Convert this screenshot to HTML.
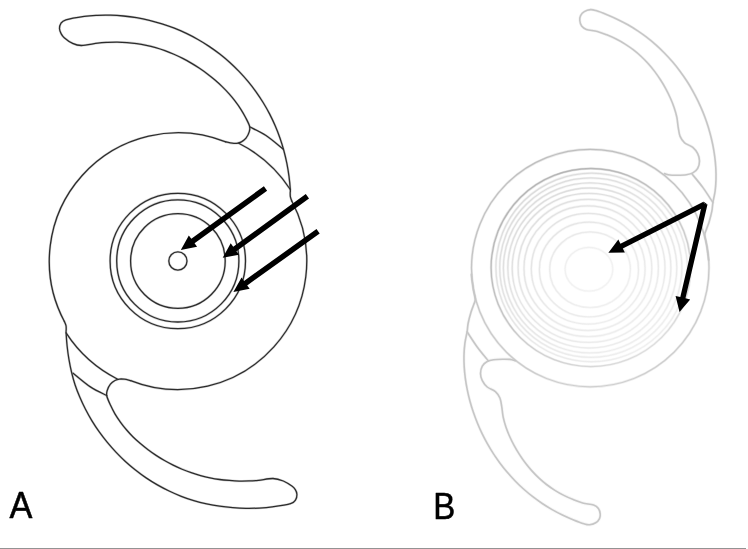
<!DOCTYPE html>
<html><head><meta charset="utf-8"><title>IOL</title>
<style>
html,body{margin:0;padding:0;background:#fff;}
body{width:748px;height:549px;overflow:hidden;font-family:"Liberation Sans",sans-serif;}
svg{display:block;position:absolute;left:0;top:0;}
</style></head><body>
<svg width="748" height="549" viewBox="0 0 748 549">
<defs>
<linearGradient id="gr" gradientUnits="userSpaceOnUse" x1="535" y1="185" x2="650" y2="350">
<stop offset="0" stop-color="#cecece"/><stop offset="0.5" stop-color="#dddddd"/><stop offset="1" stop-color="#eaeaea"/></linearGradient>
<linearGradient id="gd" gradientUnits="userSpaceOnUse" x1="535" y1="185" x2="650" y2="350">
<stop offset="0" stop-color="#989898"/><stop offset="0.5" stop-color="#b2b2b2"/><stop offset="1" stop-color="#d0d0d0"/></linearGradient>
<linearGradient id="go" gradientUnits="userSpaceOnUse" x1="565" y1="150" x2="615" y2="390">
<stop offset="0" stop-color="#a6a6a6"/><stop offset="1" stop-color="#bebebe"/></linearGradient>
<g id="lensA">
<g><path d="M291.78,201.06 C291.55,200.35 290.66,198.14 290.40,196.80 C290.14,195.46 290.22,194.22 290.20,193.00 C290.18,191.78 290.50,192.26 290.30,189.50 C290.10,186.74 289.57,180.76 289.00,176.42 C288.43,172.08 287.72,167.76 286.87,163.48 C286.02,159.20 285.02,154.94 283.88,150.73 C282.74,146.52 281.46,142.34 280.02,138.22 C278.59,134.10 277.01,130.02 275.29,126.01 C273.57,122.00 271.70,118.04 269.70,114.16 C267.69,110.28 265.54,106.46 263.26,102.73 C260.98,99.01 258.56,95.35 256.02,91.80 C253.47,88.24 250.79,84.77 248.00,81.41 C245.20,78.04 242.28,74.77 239.25,71.62 C236.22,68.47 233.07,65.41 229.82,62.49 C226.58,59.56 223.21,56.75 219.77,54.06 C216.32,51.38 212.76,48.81 209.13,46.38 C205.50,43.95 201.78,41.65 197.98,39.49 C194.19,37.33 190.31,35.30 186.37,33.41 C182.43,31.53 178.42,29.78 174.35,28.18 C170.29,26.57 166.16,25.11 162.00,23.80 C157.83,22.49 153.61,21.33 149.36,20.31 C145.11,19.29 140.81,18.43 136.50,17.71 C132.19,16.99 127.84,16.42 123.49,16.01 C119.14,15.59 114.76,15.33 110.39,15.22 C106.02,15.11 101.63,15.15 97.27,15.34 C92.90,15.54 89.43,15.64 84.20,16.40 C78.97,17.16 69.80,18.70 65.90,19.90 C62.00,21.10 61.87,22.12 60.80,23.60 C59.73,25.08 59.45,27.13 59.50,28.80 C59.55,30.47 60.32,32.12 61.10,33.60 C61.88,35.08 62.35,36.10 64.20,37.70 C66.05,39.30 69.33,41.90 72.20,43.20 C75.07,44.50 77.13,45.52 81.40,45.50 C85.67,45.48 93.46,43.62 97.80,43.10 C102.14,42.58 104.22,42.54 107.45,42.38 C110.69,42.22 113.95,42.13 117.21,42.15 C120.46,42.17 123.72,42.29 126.96,42.52 C130.20,42.76 133.44,43.10 136.66,43.55 C139.87,44.01 143.07,44.58 146.24,45.26 C149.40,45.94 152.55,46.74 155.66,47.64 C158.77,48.53 161.85,49.55 164.89,50.65 C167.94,51.75 170.95,52.97 173.92,54.26 C176.88,55.56 179.82,56.96 182.70,58.44 C185.59,59.91 188.44,61.48 191.24,63.13 C194.03,64.78 196.79,66.51 199.49,68.31 C202.18,70.12 204.83,72.01 207.42,73.97 C210.01,75.93 212.55,77.96 215.01,80.08 C217.47,82.19 219.88,84.37 222.19,86.64 C224.51,88.90 226.77,91.24 228.92,93.66 C231.08,96.07 233.16,98.57 235.12,101.14 C237.09,103.72 238.97,106.37 240.71,109.10 C242.45,111.83 244.09,114.64 245.57,117.52 C247.05,120.41 249.00,124.00 249.60,126.40 C250.20,128.80 249.80,129.93 249.20,131.90 C248.60,133.87 247.30,136.53 246.00,138.20 C244.70,139.87 242.92,141.05 241.40,141.90 C239.88,142.75 238.42,143.08 236.90,143.30 C235.38,143.52 234.16,143.43 232.30,143.20 C230.44,142.97 226.83,142.11 225.74,141.90"/><path d="M249.60,126.80 C252.33,128.25 260.38,131.77 266.00,135.50 C271.62,139.23 280.42,146.92 283.30,149.20"/><path d="M238.7,143.2 A133,133 0 0 1 290.3,189.5"/><path d="M64.39,321.47 A128.725,128.400 0 0 1 225.74,141.90"/></g>
<g><path d="M64.39,321.47 C64.66,322.16 65.70,324.28 66.00,325.60 C66.30,326.92 66.18,328.18 66.20,329.40 C66.22,330.62 65.95,330.13 66.10,332.90 C66.25,335.67 66.64,341.67 67.11,346.03 C67.58,350.40 68.17,354.75 68.91,359.08 C69.64,363.41 70.49,367.73 71.51,372.00 C72.53,376.28 73.65,380.55 75.03,384.73 C76.40,388.91 78.03,393.02 79.76,397.07 C81.48,401.13 83.35,405.13 85.36,409.05 C87.37,412.98 89.52,416.84 91.81,420.61 C94.10,424.37 96.53,428.07 99.09,431.67 C101.64,435.26 104.34,438.77 107.15,442.17 C109.96,445.58 112.89,448.89 115.93,452.09 C118.96,455.30 122.10,458.42 125.36,461.41 C128.61,464.39 131.98,467.27 135.44,470.01 C138.90,472.76 142.46,475.40 146.11,477.88 C149.77,480.36 153.54,482.69 157.37,484.89 C161.20,487.08 165.13,489.13 169.11,491.04 C173.09,492.95 177.15,494.75 181.26,496.35 C185.37,497.95 189.57,499.39 193.79,500.65 C198.02,501.90 202.32,502.95 206.63,503.88 C210.94,504.81 215.29,505.58 219.65,506.21 C224.01,506.84 228.39,507.30 232.77,507.66 C237.16,508.01 241.56,508.26 245.95,508.33 C250.34,508.40 254.75,508.32 259.13,508.08 C263.51,507.84 266.99,507.65 272.23,506.90 C277.48,506.15 286.69,504.80 290.60,503.60 C294.51,502.40 294.65,501.27 295.70,499.70 C296.75,498.13 296.97,495.87 296.90,494.20 C296.83,492.53 296.13,491.05 295.30,489.70 C294.47,488.35 293.90,487.55 291.90,486.10 C289.90,484.65 286.45,482.27 283.30,481.00 C280.15,479.73 277.11,478.62 273.00,478.50 C268.89,478.38 262.65,479.89 258.64,480.30 C254.63,480.71 252.18,480.85 248.94,480.98 C245.69,481.11 242.41,481.18 239.15,481.10 C235.89,481.01 232.62,480.75 229.38,480.48 C226.13,480.21 222.88,479.94 219.65,479.50 C216.43,479.06 213.22,478.51 210.03,477.85 C206.85,477.20 203.68,476.43 200.54,475.57 C197.40,474.71 194.28,473.76 191.20,472.70 C188.12,471.64 185.07,470.48 182.06,469.22 C179.05,467.96 176.08,466.61 173.15,465.16 C170.21,463.72 167.32,462.18 164.48,460.56 C161.65,458.93 158.86,457.20 156.12,455.40 C153.39,453.59 150.70,451.71 148.08,449.74 C145.46,447.78 142.89,445.73 140.39,443.61 C137.90,441.48 135.42,439.31 133.10,437.00 C130.77,434.69 128.56,432.25 126.44,429.76 C124.32,427.26 122.29,424.66 120.38,422.01 C118.46,419.35 116.60,416.64 114.94,413.82 C113.28,411.00 111.79,408.06 110.43,405.09 C109.08,402.12 107.34,398.43 106.80,396.00 C106.26,393.57 106.60,392.47 107.20,390.50 C107.80,388.53 109.10,385.87 110.40,384.20 C111.70,382.53 113.48,381.35 115.00,380.50 C116.52,379.65 117.98,379.32 119.50,379.10 C121.02,378.88 122.24,378.96 124.10,379.20 C125.96,379.44 129.55,380.31 130.64,380.54"/><path d="M106.80,395.60 C104.07,394.15 96.02,390.63 90.40,386.90 C84.78,383.17 75.98,375.48 73.10,373.20"/><path d="M117.70,379.20 A133,133 0 0 1 66.10,332.90"/><path d="M291.78,201.06 A128.72,128.40 0 0 1 130.64,380.54"/></g>
<circle cx="177.8" cy="261" r="67.7"/>
<circle cx="177.8" cy="260.9" r="61.1"/>
<circle cx="177.9" cy="261" r="47.3"/>
<circle cx="177.9" cy="261" r="9.1"/>
</g>
<g id="optB">
<circle cx="590.25" cy="268.1" r="118.75" stroke="url(#go)"/>
<g stroke="url(#gr)" transform="translate(0 0.35)"><ellipse cx="588.95" cy="268.90" rx="23.85" ry="21.90" opacity="0.50"/><ellipse cx="590.05" cy="269.40" rx="40.35" ry="37.80" opacity="0.70"/><ellipse cx="588.95" cy="269.20" rx="49.55" ry="47.40" opacity="0.80"/><ellipse cx="588.20" cy="268.40" rx="56.90" ry="55.30" opacity="0.85"/><ellipse cx="587.90" cy="267.85" rx="63.90" ry="62.30" opacity="0.90"/><ellipse cx="588.25" cy="267.60" rx="70.15" ry="68.60" opacity="0.95"/><ellipse cx="588.60" cy="267.60" rx="76.40" ry="74.50" opacity="1.00"/><ellipse cx="589.35" cy="267.65" rx="81.55" ry="80.00" opacity="1.00"/><ellipse cx="590.10" cy="267.60" rx="86.70" ry="85.00" opacity="1.00"/><ellipse cx="590.80" cy="267.30" rx="91.10" ry="89.70" opacity="1.00"/><ellipse cx="591.60" cy="267.10" rx="95.70" ry="94.30" opacity="1.00"/></g>
<ellipse cx="590.9" cy="267.55" rx="99.8" ry="99.05" stroke="url(#gd)"/>
</g>
<g id="hapB">
<path d="M708.60,260.00 C708.50,259.10 708.37,257.32 708.00,254.60 C707.63,251.88 706.93,246.97 706.40,243.70 C705.87,240.43 704.80,237.37 704.80,235.00 C704.80,232.63 705.68,231.68 706.40,229.50 C707.12,227.32 708.18,225.00 709.10,221.90 C710.02,218.80 711.27,214.12 711.90,210.90 C712.53,207.68 712.37,205.87 712.90,202.60 C713.43,199.33 714.57,195.08 715.09,191.25 C715.60,187.42 715.87,183.52 715.99,179.64 C716.11,175.75 716.02,171.83 715.81,167.94 C715.59,164.05 715.21,160.15 714.70,156.29 C714.20,152.42 713.54,148.57 712.77,144.76 C712.01,140.95 711.11,137.16 710.10,133.42 C709.09,129.67 707.95,125.96 706.71,122.29 C705.47,118.63 704.11,115.00 702.64,111.42 C701.18,107.84 699.60,104.30 697.91,100.82 C696.22,97.33 694.42,93.89 692.52,90.52 C690.61,87.14 688.60,83.81 686.48,80.56 C684.36,77.30 682.13,74.10 679.80,70.98 C677.47,67.86 675.03,64.81 672.50,61.85 C669.97,58.88 667.34,55.99 664.61,53.21 C661.89,50.42 659.07,47.72 656.17,45.13 C653.27,42.54 650.27,40.05 647.20,37.67 C644.14,35.30 640.98,33.03 637.76,30.89 C634.54,28.75 631.25,26.72 627.89,24.81 C624.53,22.90 621.10,21.12 617.62,19.44 C614.14,17.76 610.59,16.21 606.99,14.74 C603.38,13.26 598.75,11.46 596.00,10.60 C593.25,9.74 592.45,9.43 590.50,9.60 C588.55,9.77 585.95,10.60 584.30,11.60 C582.65,12.60 581.35,14.12 580.60,15.60 C579.85,17.08 579.63,18.77 579.80,20.50 C579.97,22.23 580.50,24.52 581.60,26.00 C582.70,27.48 583.78,28.50 586.40,29.40 C589.02,30.30 593.90,30.50 597.30,31.40 C600.70,32.30 603.66,33.56 606.81,34.83 C609.95,36.10 613.11,37.50 616.16,39.04 C619.21,40.58 622.22,42.26 625.11,44.07 C628.00,45.88 630.80,47.83 633.49,49.89 C636.18,51.96 638.76,54.17 641.23,56.48 C643.71,58.79 646.07,61.22 648.32,63.75 C650.58,66.27 652.73,68.91 654.78,71.61 C656.82,74.32 658.77,77.13 660.61,79.99 C662.44,82.85 664.19,85.80 665.81,88.79 C667.43,91.79 668.97,94.85 670.34,97.95 C671.72,101.05 673.01,104.21 674.09,107.42 C675.16,110.63 676.13,113.88 676.82,117.19 C677.50,120.51 677.65,124.10 678.20,127.30 C678.75,130.50 679.03,133.82 680.10,136.40 C681.17,138.98 682.48,140.97 684.60,142.80 C686.72,144.63 690.62,145.58 692.80,147.40 C694.98,149.22 696.58,151.43 697.70,153.70 C698.82,155.97 699.50,158.57 699.50,161.00 C699.50,163.43 698.82,166.32 697.70,168.30 C696.58,170.28 694.68,171.83 692.80,172.90 C690.92,173.97 688.98,174.32 686.40,174.70 C683.82,175.08 680.03,175.15 677.30,175.20 C674.57,175.25 672.12,175.27 670.00,175.00 C667.88,174.73 665.50,173.83 664.60,173.60"/><path d="M691.90,173.80 C693.72,176.07 699.30,182.60 702.80,187.40 C706.30,192.20 711.22,200.07 712.90,202.60"/>
<g transform="rotate(180 590.0 267.2)"><path d="M708.60,260.00 C708.50,259.10 708.37,257.32 708.00,254.60 C707.63,251.88 706.93,246.97 706.40,243.70 C705.87,240.43 704.80,237.37 704.80,235.00 C704.80,232.63 705.68,231.68 706.40,229.50 C707.12,227.32 708.18,225.00 709.10,221.90 C710.02,218.80 711.27,214.12 711.90,210.90 C712.53,207.68 712.37,205.87 712.90,202.60 C713.43,199.33 714.57,195.08 715.09,191.25 C715.60,187.42 715.87,183.52 715.99,179.64 C716.11,175.75 716.02,171.83 715.81,167.94 C715.59,164.05 715.21,160.15 714.70,156.29 C714.20,152.42 713.54,148.57 712.77,144.76 C712.01,140.95 711.11,137.16 710.10,133.42 C709.09,129.67 707.95,125.96 706.71,122.29 C705.47,118.63 704.11,115.00 702.64,111.42 C701.18,107.84 699.60,104.30 697.91,100.82 C696.22,97.33 694.42,93.89 692.52,90.52 C690.61,87.14 688.60,83.81 686.48,80.56 C684.36,77.30 682.13,74.10 679.80,70.98 C677.47,67.86 675.03,64.81 672.50,61.85 C669.97,58.88 667.34,55.99 664.61,53.21 C661.89,50.42 659.07,47.72 656.17,45.13 C653.27,42.54 650.27,40.05 647.20,37.67 C644.14,35.30 640.98,33.03 637.76,30.89 C634.54,28.75 631.25,26.72 627.89,24.81 C624.53,22.90 621.10,21.12 617.62,19.44 C614.14,17.76 610.59,16.21 606.99,14.74 C603.38,13.26 598.75,11.46 596.00,10.60 C593.25,9.74 592.45,9.43 590.50,9.60 C588.55,9.77 585.95,10.60 584.30,11.60 C582.65,12.60 581.35,14.12 580.60,15.60 C579.85,17.08 579.63,18.77 579.80,20.50 C579.97,22.23 580.50,24.52 581.60,26.00 C582.70,27.48 583.78,28.50 586.40,29.40 C589.02,30.30 593.90,30.50 597.30,31.40 C600.70,32.30 603.66,33.56 606.81,34.83 C609.95,36.10 613.11,37.50 616.16,39.04 C619.21,40.58 622.22,42.26 625.11,44.07 C628.00,45.88 630.80,47.83 633.49,49.89 C636.18,51.96 638.76,54.17 641.23,56.48 C643.71,58.79 646.07,61.22 648.32,63.75 C650.58,66.27 652.73,68.91 654.78,71.61 C656.82,74.32 658.77,77.13 660.61,79.99 C662.44,82.85 664.19,85.80 665.81,88.79 C667.43,91.79 668.97,94.85 670.34,97.95 C671.72,101.05 673.01,104.21 674.09,107.42 C675.16,110.63 676.13,113.88 676.82,117.19 C677.50,120.51 677.65,124.10 678.20,127.30 C678.75,130.50 679.03,133.82 680.10,136.40 C681.17,138.98 682.48,140.97 684.60,142.80 C686.72,144.63 690.62,145.58 692.80,147.40 C694.98,149.22 696.58,151.43 697.70,153.70 C698.82,155.97 699.50,158.57 699.50,161.00 C699.50,163.43 698.82,166.32 697.70,168.30 C696.58,170.28 694.68,171.83 692.80,172.90 C690.92,173.97 688.98,174.32 686.40,174.70 C683.82,175.08 680.03,175.15 677.30,175.20 C674.57,175.25 672.12,175.27 670.00,175.00 C667.88,174.73 665.50,173.83 664.60,173.60"/><path d="M691.90,173.80 C693.72,176.07 699.30,182.60 702.80,187.40 C706.30,192.20 711.22,200.07 712.90,202.60"/></g>
</g>
</defs>
<rect width="748" height="549" fill="#ffffff"/>
<g fill="none" stroke="#2c2c2c" stroke-linecap="round" stroke-linejoin="round">
<use href="#lensA" stroke-width="2.4" opacity="0.2"/>
<use href="#lensA" stroke-width="1.28"/>
</g>
<g fill="#000"><polygon points="263.88,186.17 191.32,238.86 188.83,235.42 180.80,249.90 197.05,246.75 194.55,243.31 267.12,190.63"/><polygon points="305.78,193.98 233.21,246.75 230.71,243.32 222.70,257.80 238.95,254.64 236.45,251.20 309.02,198.42"/><polygon points="316.50,229.06 244.00,280.94 241.53,277.48 233.40,291.90 249.67,288.86 247.20,285.41 319.70,233.54"/></g>
<g fill="none" stroke-linecap="round" stroke-linejoin="round">
<use href="#optB" stroke-width="2.6" opacity="0.25"/>
<use href="#optB" stroke-width="1.3" opacity="0.62"/>
</g>
<g fill="none" stroke="#c6c6c6" stroke-linecap="round" stroke-linejoin="round">
<use href="#hapB" stroke-width="2.8" opacity="0.22"/>
<use href="#hapB" stroke-width="1.6"/>
</g>
<g fill="#000"><polygon points="703.41,201.73 620.42,243.66 618.34,239.56 608.40,252.70 624.88,252.50 622.80,248.39 705.79,206.47"/><polygon points="702.32,203.29 680.30,297.09 675.58,295.98 679.50,312.10 690.18,299.41 685.46,298.30 707.48,204.51"/><polygon points="704.7,204 703.4,201.6 707.5,204.5"/></g>
<g font-family="Liberation Sans, sans-serif" font-size="37.4" fill="#000" stroke="#000" stroke-width="0.6" stroke-linejoin="round">
<text x="9.6" y="517.5" textLength="22.9" lengthAdjust="spacingAndGlyphs">A</text>
<text x="433.3" y="518.7" textLength="22" lengthAdjust="spacingAndGlyphs">B</text>
</g>
<rect x="0" y="548" width="746" height="1" fill="#939393"/>
</svg>
</body></html>
